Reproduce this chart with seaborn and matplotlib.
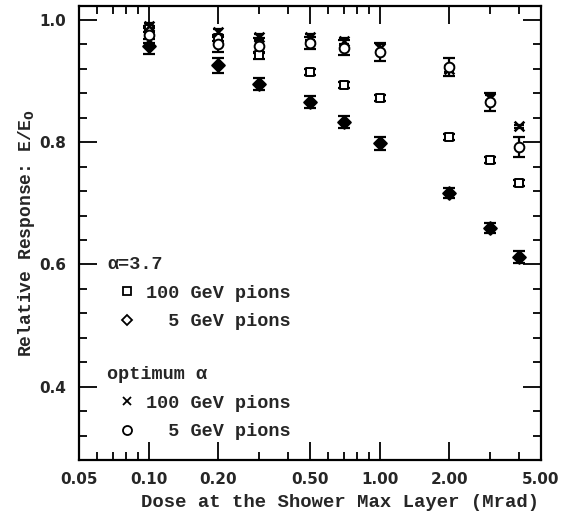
import numpy as np
import pandas as pd
import matplotlib
matplotlib.use("Agg")
import matplotlib.pyplot as plt
from matplotlib.ticker import FixedLocator, NullFormatter, FixedFormatter
from matplotlib.lines import Line2D
import seaborn as sns

# ---- data ----
dose = [0.1, 0.2, 0.3, 0.5, 0.7, 1.0, 2.0, 3.0, 4.0]
sq100 = [0.985, 0.970, 0.942, 0.915, 0.894, 0.872, 0.809, 0.771, 0.733]
sq100_err = [0.005, 0.005, 0.005, 0.005, 0.005, 0.005, 0.005, 0.005, 0.005]
dia5 = [0.957, 0.926, 0.895, 0.866, 0.833, 0.798, 0.717, 0.660, 0.612]
dia5_err = [0.012, 0.012, 0.010, 0.010, 0.010, 0.010, 0.008, 0.008, 0.010]
x100 = [0.990, 0.980, 0.972, 0.972, 0.966, 0.955, 0.920, 0.872, 0.826]
x100_err = [0.005, 0.005, 0.005, 0.005, 0.005, 0.005, 0.005, 0.005, 0.003]
circ5 = [0.975, 0.960, 0.958, 0.962, 0.955, 0.948, 0.923, 0.866, 0.792]
circ5_err = [0.012, 0.012, 0.012, 0.010, 0.012, 0.015, 0.015, 0.015, 0.016]

xticks = [0.05, 0.1, 0.2, 0.5, 1.0, 2.0, 5.0]
xticklabels = ["0.05", "0.10", "0.20", "0.50", "1.00", "2.00", "5.00"]
xminor = [0.06, 0.07, 0.08, 0.09, 0.3, 0.4, 0.6, 0.7, 0.8, 0.9, 3.0, 4.0]
yticks = [0.4, 0.6, 0.8, 1.0]
yticklabels = ["0.4", "0.6", "0.8", "1.0"]

sns.set_style("ticks")
plt.rcParams["font.family"] = ["Liberation Mono", "DejaVu Sans"]
plt.rcParams["font.weight"] = "bold"

fig = plt.figure(figsize=(5.8, 5.31), dpi=100)
ax = fig.add_axes([79/580, 1-460/531, (541-79)/580, (460-6)/531])

series = [
    (sq100, sq100_err, "s", "white", 6, 4.0),
    (dia5, dia5_err, "D", "black", 6.5, 4.5),
    (x100, x100_err, "x", "black", 7, 3.5),
    (circ5, circ5_err, "o", "white", 7, 4.5),
]
for vals, errs, mk, fc, ms, cap in series:
    ax.errorbar(dose, vals, yerr=errs, fmt="none", ecolor="black",
                elinewidth=1.6, capsize=cap, capthick=1.6, zorder=2)
    df = pd.DataFrame({"dose": dose, "resp": vals})
    if mk == "x":
        sns.scatterplot(data=df, x="dose", y="resp", marker="x", color="black",
                        s=ms**2, linewidth=1.8, ax=ax, zorder=3)
    else:
        sns.scatterplot(data=df, x="dose", y="resp", marker=mk, facecolor=fc,
                        edgecolor="black", s=ms**2, linewidth=1.4, ax=ax, zorder=3)

ax.set_xscale("log")
ax.set_xlim(0.05, 5.0)
ax.set_ylim(0.28, 1.023)
ax.xaxis.set_major_locator(FixedLocator(xticks))
ax.xaxis.set_major_formatter(FixedFormatter(xticklabels))
ax.xaxis.set_minor_locator(FixedLocator(xminor))
ax.xaxis.set_minor_formatter(NullFormatter())
ax.yaxis.set_major_locator(FixedLocator(yticks))
ax.yaxis.set_major_formatter(FixedFormatter(yticklabels))
ax.yaxis.set_minor_locator(FixedLocator(np.arange(0.32, 1.02, 0.04)))

ax.tick_params(which="both", direction="in", top=True, right=True, color="black", width=1.3)
ax.tick_params(which="major", length=13, pad=9)
ax.tick_params(which="minor", length=6)
for lab in ax.get_xticklabels() + ax.get_yticklabels():
    lab.set_fontfamily("DejaVu Sans")
    lab.set_fontweight("bold")
    lab.set_fontsize(11)
for sp in ax.spines.values():
    sp.set_linewidth(1.6)
    sp.set_color("black")

ax.set_xlabel("Dose at the Shower Max Layer (Mrad)", fontsize=13.6, fontweight="bold")
ax.set_ylabel("Relative Response: E/E$_\\mathbf{0}$", fontsize=13, fontweight="bold")
ax.xaxis.set_label_coords(0.565, -0.075)
ax.yaxis.set_label_coords(-0.09, 0.5)

lkw = dict(loc="upper left", frameon=False, fontsize=13.3, title_fontsize=13.3,
           handlelength=2.2, handletextpad=-0.08, labelspacing=0.62, borderpad=0,
           alignment="left")
h1 = [Line2D([], [], ls="none", marker="s", mfc="white", mec="black", ms=6, mew=1.3),
      Line2D([], [], ls="none", marker="D", mfc="white", mec="black", ms=5, mew=1.3)]
leg1 = ax.legend(h1, ["100 GeV pions", "  5 GeV pions"], title="α=3.7",
                 bbox_to_anchor=(0.041, 0.469), **lkw)
leg1.get_title().set_fontweight("bold")
ax.add_artist(leg1)
h2 = [Line2D([], [], ls="none", marker="x", color="black", ms=6, mew=1.3),
      Line2D([], [], ls="none", marker="o", mfc="white", mec="black", ms=6.5, mew=1.3)]
leg2 = ax.legend(h2, ["100 GeV pions", "  5 GeV pions"], title="optimum α",
                 bbox_to_anchor=(0.041, 0.227), **lkw)
leg2.get_title().set_fontweight("bold")

fig.savefig("out.png", dpi=100)
